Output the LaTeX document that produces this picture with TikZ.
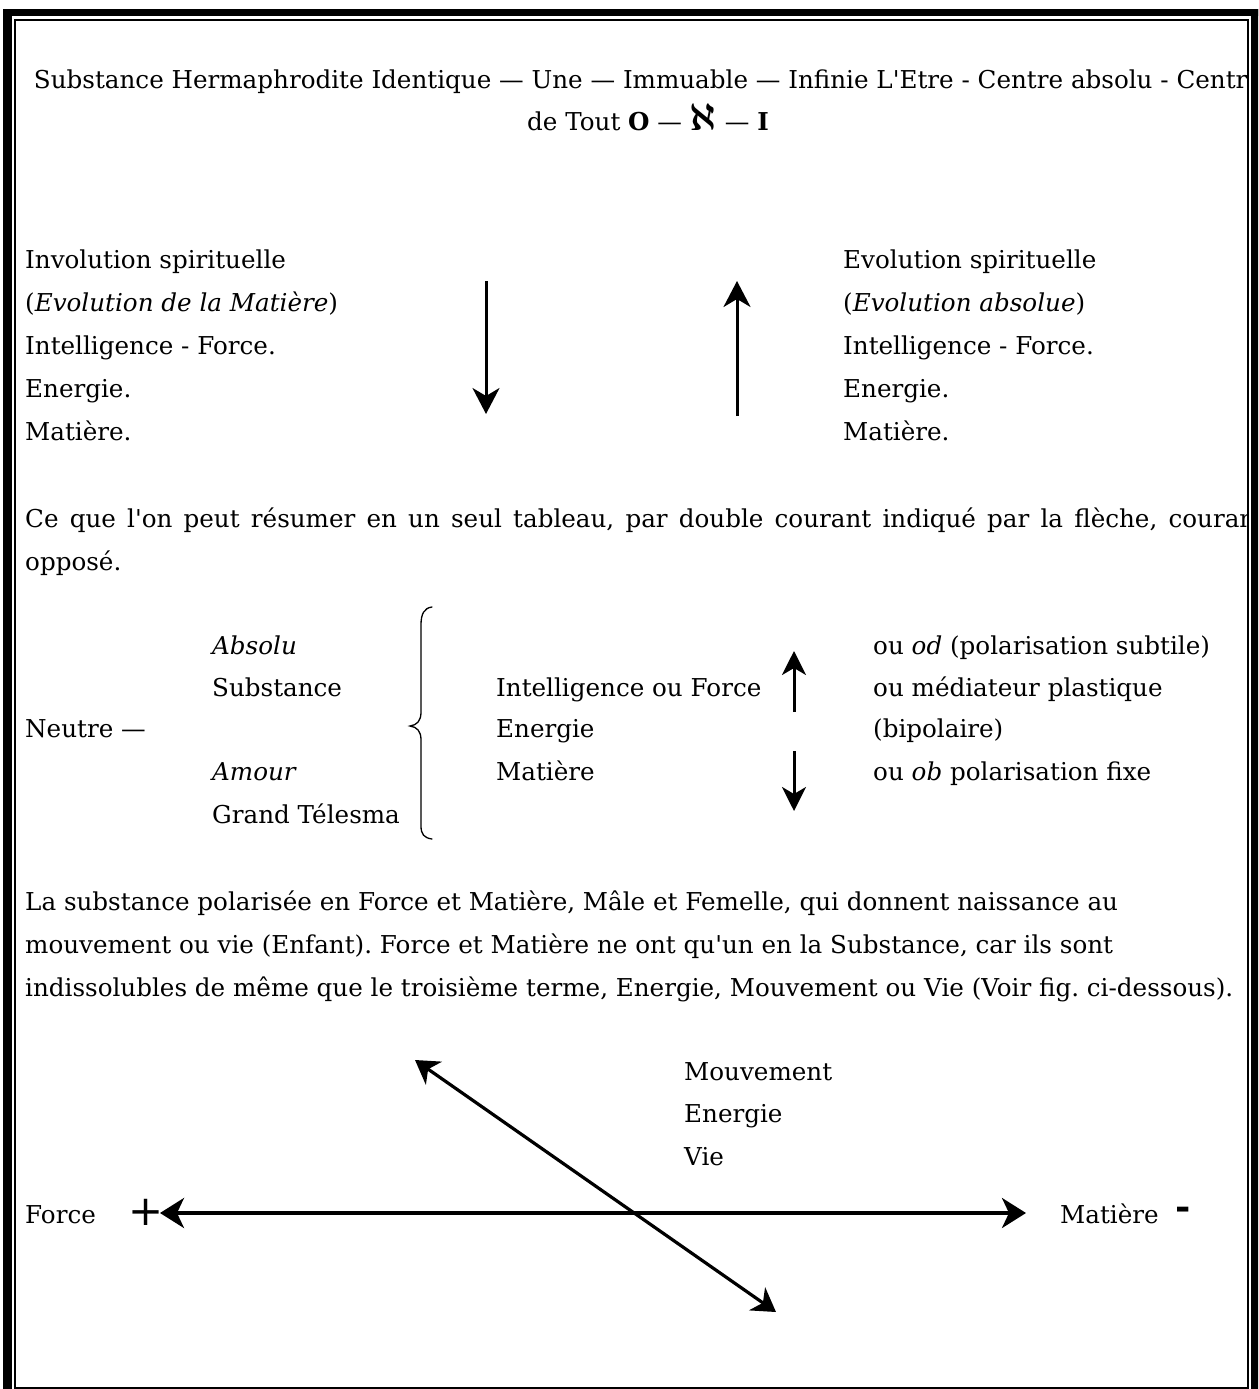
\documentclass[tikz,border=0pt]{standalone}
\usepackage{fontspec}
\setmainfont{DejaVu Serif}
\newfontfamily\sansplus{DejaVu Sans}
\usetikzlibrary{arrows.meta}
\newlength\reflen
\newcommand\mainsz{\fontsize{\myfs pt}{43pt}\selectfont}
\newcommand\apos{\textquotesingle}
\begin{document}
\frenchspacing
\settowidth\reflen{\fontsize{10pt}{12pt}\selectfont indissolubles de même que le troisième terme, Energie, Mouvement ou Vie (Voir fig. ci-dessous).}%
\pgfmathsetmacro\myfs{10*1208/\reflen}%
\begin{tikzpicture}[x=1pt,y=-1pt]
\tikzset{
  txt/.style={font=\mainsz, inner sep=0pt, anchor=mid west, yshift=-6pt},
  ctr/.style={font=\mainsz, inner sep=0pt, anchor=mid, yshift=-6pt},
  varr/.style={line width=3pt, -{Stealth[length=26pt,width=27pt,inset=8pt]}},
  sarr/.style={line width=3pt, -{Stealth[length=24pt,width=24pt,inset=7pt]}},
  darr/.style={line width=3.2pt, {Stealth[length=23pt,width=28pt,inset=7pt]}-{Stealth[length=23pt,width=28pt,inset=7pt]}},
  harr/.style={line width=3.6pt, {Stealth[length=24pt,width=30pt,inset=7pt]}-{Stealth[length=24pt,width=30pt,inset=7pt]}},
  bracestyle/.style={line width=1.3pt, line cap=round},
  thickframe/.style={fill=black},
  thinframe/.style={draw=black, line width=1.6pt}
}
\useasboundingbox (0,0) rectangle (1258,1389);
\clip (0,0) rectangle (1258,1389);
\fill[white] (0,0) rectangle (1258,1389);

\begin{scope}
\clip (15,21) rectangle (1247,1387);
% title
\node[ctr] (t1) at (648,80) {Substance Hermaphrodite Identique — Une — Immuable — Infinie L\apos Etre - Centre absolu - Centre};
\node[ctr] (t2) at (648,122) {de Tout \textbf{O} — \scalebox{1.55}{\boldmath$\aleph$} — \textbf{I}};

% section 2
\node[txt] (l1) at (25,260) {Involution spirituelle};
\node[txt] (l2) at (25,303) {(\textit{Evolution de la Matière})};
\node[txt] (l3) at (25,346) {Intelligence - Force.};
\node[txt] (l4) at (25,389) {Energie.};
\node[txt] (l5) at (25,432) {Matière.};
\node[txt] (r1) at (843,260) {Evolution spirituelle};
\node[txt] (r2) at (843,303) {(\textit{Evolution absolue})};
\node[txt] (r3) at (843,346) {Intelligence - Force.};
\node[txt] (r4) at (843,389) {Energie.};
\node[txt] (r5) at (843,432) {Matière.};
\coordinate (da1) at (486,281);
\coordinate (da2) at (486,414);
\coordinate (ua1) at (737,416);
\coordinate (ua2) at (737,281);
\draw[varr] (da1) -- (da2);
\draw[varr] (ua1) -- (ua2);

% paragraph
\node[txt] (p1) at (25,519) {\makebox[1240pt][s]{Ce que l\apos on peut résumer en un seul tableau, par double courant indiqué par la flèche, courant}};
\node[txt] (p2) at (25,562) {opposé.};

% table
\node[txt] (a1) at (212,646) {\textit{Absolu}};
\node[txt] (a2) at (212,688) {Substance};
\node[txt] (neu) at (25,729) {Neutre —};
\node[txt] (a3) at (212,772) {\textit{Amour}};
\node[txt] (a4) at (212,815) {Grand Télesma};
\draw[bracestyle] (432,607) .. controls (424,608) and (421,614) .. (421,625)
  -- (421,712) .. controls (421,721) and (417,725) .. (410,726)
  .. controls (417,727) and (421,731) .. (421,740)
  -- (421,826) .. controls (421,834) and (424,838) .. (432,839);
\node[txt] (m1) at (496,688) {Intelligence ou Force};
\node[txt] (m2) at (496,729) {Energie};
\node[txt] (m3) at (496,772) {Matière};
\coordinate (mu1) at (794,712);
\coordinate (mu2) at (794,651);
\coordinate (md1) at (794,751);
\coordinate (md2) at (794,811);
\draw[sarr] (mu1) -- (mu2);
\draw[sarr] (md1) -- (md2);
\node[txt] (o1) at (873,646) {ou \textit{od} (polarisation subtile)};
\node[txt] (o2) at (873,688) {ou médiateur plastique};
\node[txt] (o3) at (873,729) {(bipolaire)};
\node[txt] (o4) at (873,772) {ou \textit{ob} polarisation fixe};

% paragraph 3
\node[txt] (q1) at (25,902) {La substance polarisée en Force et Matière, Mâle et Femelle, qui donnent naissance au};
\node[txt] (q2) at (25,945) {mouvement ou vie (Enfant). Force et Matière ne ont qu\apos un en la Substance, car ils sont};
\node[txt] (q3) at (25,988) {indissolubles de même que le troisième terme, Energie, Mouvement ou Vie (Voir fig. ci-dessous).};

% bottom figure
\node[txt] (mv) at (684,1072) {Mouvement};
\node[txt] (en) at (684,1114) {Energie};
\node[txt] (vi) at (684,1157) {Vie};
\node[txt] (fo) at (25,1215) {Force};
\node[inner sep=0pt, anchor=mid, font=\fontsize{1.7\dimexpr\myfs pt\relax}{43pt}\selectfont\sansplus\mdseries] (plus) at (146,1223) {+};
\node[txt] (ma) at (1060,1215) {Matière};
\node[inner sep=0pt, anchor=mid, font=\fontsize{1.5\dimexpr\myfs pt\relax}{43pt}\selectfont\bfseries] (minus) at (1183,1217) {-};
\coordinate (hl) at (160,1213);
\coordinate (hr) at (1026,1213);
\coordinate (dl) at (415,1060);
\coordinate (dr) at (776,1312);
\draw[harr] (hl) -- (hr);
\draw[darr] (dl) -- (dr);
\end{scope}

% frame
\fill[thickframe] (3,9) rectangle (12,1400);
\fill[thickframe] (3,9) rectangle (1270,16);
\fill[thickframe] (1251,9) rectangle (1270,1400);
\draw[thinframe] (14.8,20) rectangle (1247.8,1387.8);
\end{tikzpicture}
\end{document}
